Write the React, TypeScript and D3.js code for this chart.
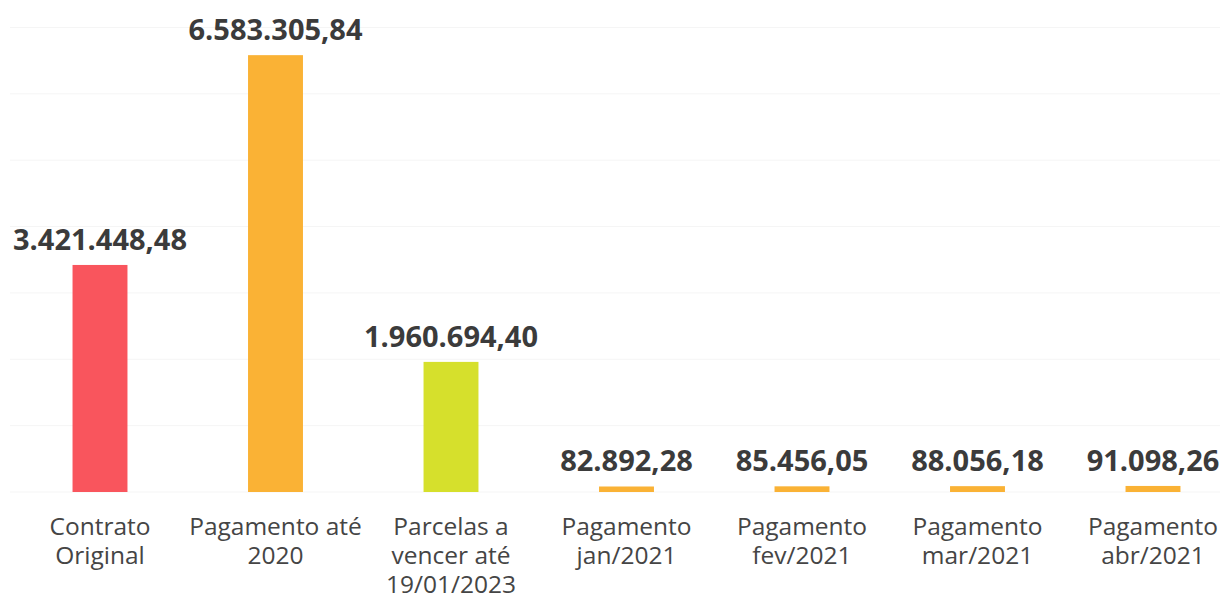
import React from "react";
import * as d3 from "d3";

const categories: string[] = [
  "Contrato Original",
  "Pagamento até 2020",
  "Parcelas a vencer até 19/01/2023",
  "Pagamento jan/2021",
  "Pagamento fev/2021",
  "Pagamento mar/2021",
  "Pagamento abr/2021",
];
const categoryLines: string[][] = [
  ["Contrato", "Original"],
  ["Pagamento até", "2020"],
  ["Parcelas a", "vencer até", "19/01/2023"],
  ["Pagamento", "jan/2021"],
  ["Pagamento", "fev/2021"],
  ["Pagamento", "mar/2021"],
  ["Pagamento", "abr/2021"],
];
const values: number[] = [3421448.48, 6583305.84, 1960694.4, 82892.28, 85456.05, 88056.18, 91098.26];
const barColors: string[] = ["#f9555d", "#fab235", "#d6e02c", "#fab235", "#fab235", "#fab235", "#fab235"];
const gridTicks: number[] = [0, 1e6, 2e6, 3e6, 4e6, 5e6, 6e6, 7e6];

const W = 1225;
const H = 599;

const ptBR = d3.formatLocale({ decimal: ",", thousands: ".", grouping: [3], currency: ["R$", ""] });
const fmt = ptBR.format(",.2f");

export default function App() {
  const x = d3
    .scaleBand<string>()
    .domain(categories)
    .range([12.25, 1240.75])
    .paddingInner(0.687)
    .paddingOuter(0.3435);
  const y = d3.scaleLinear().domain([0, 7e6]).range([492, 27.5]);

  return (
    <svg
      width={W}
      height={H}
      style={{ position: "absolute", left: 0, top: 0, background: "#ffffff" }}
    >
      <g>
        {gridTicks.map((t) => (
          <line key={t} x1={10} x2={1220} y1={y(t)} y2={y(t)} stroke="#f5f5f5" strokeWidth={1} />
        ))}
      </g>
      <g>
        {categories.map((c, i) => {
          const bx = x(c) as number;
          const top = y(values[i]);
          return (
            <rect key={c} x={bx} y={top} width={x.bandwidth()} height={y(0) - top} fill={barColors[i]} />
          );
        })}
      </g>
      <g fontFamily="'Open Sans', sans-serif" fontWeight={700} fontSize={29} fill="#3b3b3b" textAnchor="middle">
        {categories.map((c, i) => (
          <text key={c} x={(x(c) as number) + x.bandwidth() / 2} y={y(values[i]) - 15}>
            {fmt(values[i])}
          </text>
        ))}
      </g>
      <g fontFamily="'Open Sans', sans-serif" fontWeight={400} fontSize={24.5} fill="#454545" textAnchor="middle">
        {categories.map((c, i) => (
          <text key={c} x={(x(c) as number) + x.bandwidth() / 2} y={535}>
            {categoryLines[i].map((ln, j) => (
              <tspan key={j} x={(x(c) as number) + x.bandwidth() / 2} dy={j === 0 ? 0 : 29}>
                {ln}
              </tspan>
            ))}
          </text>
        ))}
      </g>
    </svg>
  );
}
